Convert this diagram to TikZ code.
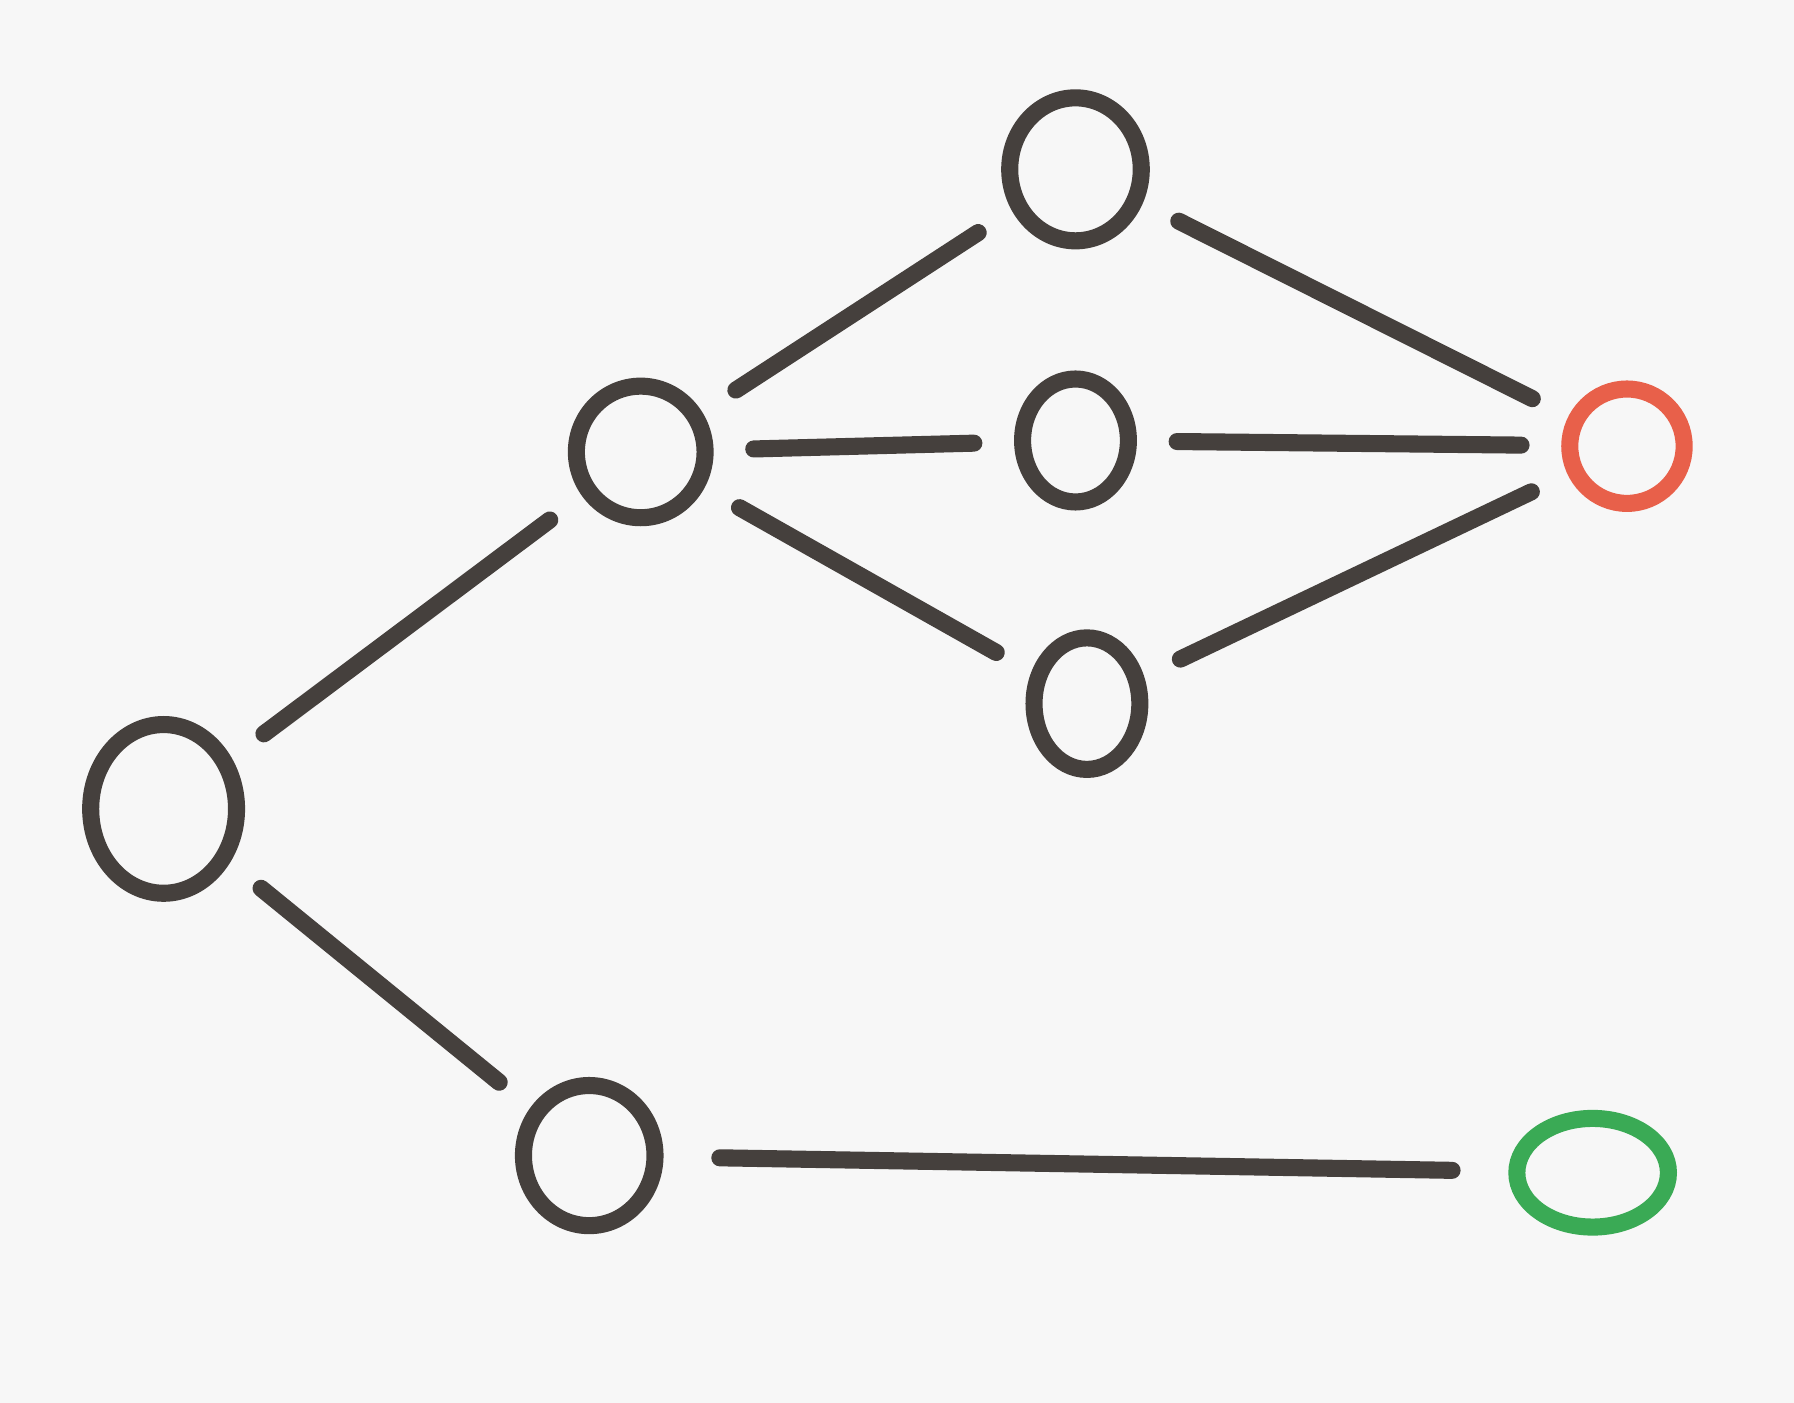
\documentclass[tikz,border=0pt]{standalone}
\usetikzlibrary{shapes.geometric}
\definecolor{ink}{HTML}{45403D}
\definecolor{redc}{HTML}{E8604A}
\definecolor{greenc}{HTML}{3AAA55}
\definecolor{bg}{HTML}{F7F7F7}
\begin{document}
\begin{tikzpicture}[x=0.02cm,y=-0.02cm,
  vtx/.style={ellipse,draw=ink,line width=8.5pt,inner sep=0pt},
  edge/.style={draw=ink,line width=8.5pt,line cap=round,shorten <=20pt,shorten >=20pt}]
\fill[bg] (0,0) rectangle (1568,1226);
\useasboundingbox (0,0) rectangle (1568,1226);
\node[vtx,minimum width=2.55cm,minimum height=2.95cm] (A) at (143,707) {};
\node[vtx,minimum width=2.25cm,minimum height=2.3cm] (B) at (560,395) {};
\node[vtx,minimum width=2.3cm,minimum height=2.5cm] (C) at (940,148) {};
\node[vtx,minimum width=1.85cm,minimum height=2.15cm] (D) at (940,385) {};
\node[vtx,minimum width=1.85cm,minimum height=2.3cm] (E) at (950,615) {};
\node[vtx,draw=redc,minimum width=2.0cm,minimum height=2.0cm] (F) at (1422,390) {};
\node[vtx,minimum width=2.3cm,minimum height=2.45cm] (G) at (515,1010) {};
\node[vtx,draw=greenc,minimum width=2.65cm,minimum height=1.9cm] (H) at (1392,1025) {};
\draw[edge] (A) -- (B);
\draw[edge] (B) -- (C);
\draw[edge] (B) -- (D);
\draw[edge] (B) -- (E);
\draw[edge] (C) -- (F);
\draw[edge] (D) -- (F);
\draw[edge] (E) -- (F);
\draw[edge] (A) -- (G);
\draw[edge,shorten <=28pt,shorten >=28pt] (G) -- (H);
\end{tikzpicture}
\end{document}
